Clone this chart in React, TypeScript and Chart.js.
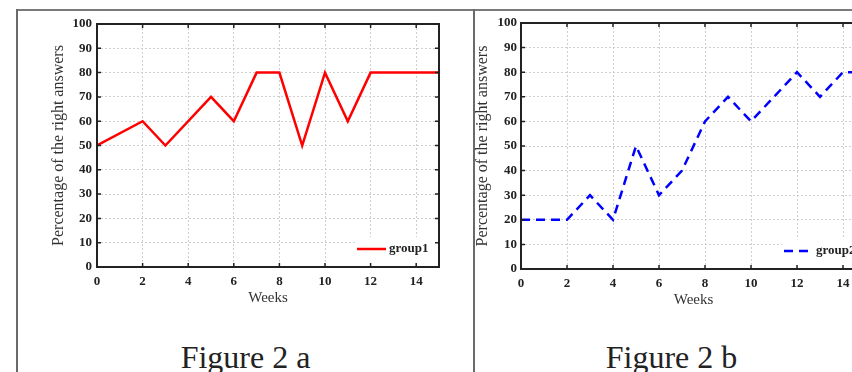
import React, { useEffect, useRef } from "react";
import { Chart, registerables } from "chart.js";

Chart.register(...registerables);

// ---- data ----
const weeksA = [0, 2, 3, 5, 6, 7, 8, 9, 10, 11, 12, 15];
const group1 = [50, 60, 50, 70, 60, 80, 80, 50, 80, 60, 80, 80];
const weeksB = [0, 2, 3, 4, 5, 6, 7, 8, 9, 10, 11, 12, 13, 14, 15];
const group2 = [20, 20, 30, 20, 50, 30, 40, 60, 70, 60, 70, 80, 70, 80, 80];
const xTickValues = [0, 2, 4, 6, 8, 10, 12, 14];
const yTickValues = [0, 10, 20, 30, 40, 50, 60, 70, 80, 90, 100];
const seriesLabels = ["group1", "group2"];
const captions = ["Figure 2 a", "Figure 2 b"];
const xTitle = "Weeks";
const yTitle = "Percentage of the right answers";

const SERIF = '"Liberation Serif", "Times New Roman", serif';

const boxPlugin = {
  id: "boxAndLegend",
  afterDatasetsDraw(chart: any) {
    const { ctx, chartArea } = chart;
    const { left, right, top, bottom } = chartArea;
    const ds = chart.data.datasets[0];
    // legend
    ctx.save();
    ctx.fillStyle = "#ffffff";
    ctx.fillRect(right - 84, bottom - 30, 82, 28);
    const ly = bottom - 18;
    ctx.strokeStyle = ds.borderColor;
    ctx.lineWidth = ds.borderWidth;
    ctx.setLineDash(ds.borderDash || []);
    ctx.beginPath();
    ctx.moveTo(right - 82, ly);
    ctx.lineTo(right - 53, ly);
    ctx.stroke();
    ctx.setLineDash([]);
    ctx.fillStyle = "#222";
    ctx.font = `bold 13px ${SERIF}`;
    ctx.textBaseline = "middle";
    ctx.textAlign = "left";
    ctx.fillText(ds.label, right - 50, ly);
    ctx.restore();

    // box
    ctx.save();
    ctx.strokeStyle = "#222";
    ctx.lineWidth = 2;
    ctx.strokeRect(left, top, right - left, bottom - top);
    // inward ticks
    ctx.lineWidth = 1.5;
    const xs = chart.scales.x;
    const ys = chart.scales.y;
    ctx.beginPath();
    xs.ticks.forEach((t: any) => {
      const px = xs.getPixelForValue(t.value);
      ctx.moveTo(px, bottom);
      ctx.lineTo(px, bottom - 4);
      ctx.moveTo(px, top);
      ctx.lineTo(px, top + 4);
    });
    ys.ticks.forEach((t: any) => {
      const py = ys.getPixelForValue(t.value);
      ctx.moveTo(left, py);
      ctx.lineTo(left + 4, py);
      ctx.moveTo(right, py);
      ctx.lineTo(right - 4, py);
    });
    ctx.stroke();
    ctx.restore();
  },
};

type PanelCfg = {
  left: number;
  top: number;
  w: number;
  h: number;
  yWidth: number;
  xHeight: number;
  padTop: number;
  padRight: number;
  yLabelPad: number;
  yTitlePad: number;
  xTitlePad: number;
  xs: number[];
  ys: number[];
  label: string;
  color: string;
  dash: number[];
};

function Panel({ cfg }: { cfg: PanelCfg }) {
  const ref = useRef<HTMLCanvasElement>(null);
  useEffect(() => {
    const chart = new Chart(ref.current as HTMLCanvasElement, {
      type: "line",
      data: {
        datasets: [
          {
            label: cfg.label,
            data: cfg.xs.map((x, i) => ({ x, y: cfg.ys[i] })),
            borderColor: cfg.color,
            backgroundColor: cfg.color,
            borderWidth: 2.5,
            borderDash: cfg.dash,
            borderCapStyle: "butt",
            borderJoinStyle: "miter",
            pointRadius: 0,
            fill: false,
            tension: 0,
          },
        ],
      },
      options: {
        animation: false,
        responsive: false,
        devicePixelRatio: 1,
        layout: { padding: { top: cfg.padTop, right: cfg.padRight, left: 0, bottom: 0 } },
        plugins: { legend: { display: false }, tooltip: { enabled: false } },
        scales: {
          x: {
            type: "linear",
            min: 0,
            max: 15,
            afterBuildTicks: (s: any) => {
              s.ticks = xTickValues.map((v) => ({ value: v }));
            },
            afterFit: (s: any) => {
              s.height = cfg.xHeight;
            },
            grid: { color: "#cfcfcf", lineWidth: 1, drawTicks: false },
            border: { display: false, dash: [2, 2] },
            ticks: {
              padding: 7,
              color: "#222",
              maxRotation: 0,
              font: { family: SERIF, size: 13, weight: "bold" },
            },
            title: {
              display: true,
              text: xTitle,
              color: "#333",
              font: { family: SERIF, size: 15 },
              padding: { top: 0, bottom: cfg.xTitlePad },
            },
          },
          y: {
            type: "linear",
            min: 0,
            max: 100,
            afterBuildTicks: (s: any) => {
              s.ticks = yTickValues.map((v) => ({ value: v }));
            },
            afterFit: (s: any) => {
              s.width = cfg.yWidth;
            },
            grid: { color: "#cfcfcf", lineWidth: 1, drawTicks: false },
            border: { display: false, dash: [2, 2] },
            ticks: {
              padding: cfg.yLabelPad,
              color: "#222",
              font: { family: SERIF, size: 13, weight: "bold" },
            },
            title: {
              display: true,
              text: yTitle,
              color: "#333",
              font: { family: SERIF, size: 16 },
              padding: { top: cfg.yTitlePad, bottom: 0 },
            },
          },
        },
      },
      plugins: [boxPlugin],
    } as any);
    return () => chart.destroy();
  }, []);
  return (
    <canvas
      ref={ref}
      width={cfg.w}
      height={cfg.h}
      style={{ position: "absolute", left: cfg.left, top: cfg.top, width: cfg.w, height: cfg.h }}
    />
  );
}

const panelA: PanelCfg = {
  left: 18,
  top: 11,
  w: 455,
  h: 300,
  yWidth: 79,
  xHeight: 44,
  padTop: 13,
  padRight: 34,
  yLabelPad: 5,
  yTitlePad: 31,
  xTitlePad: 4,
  xs: weeksA,
  ys: group1,
  label: seriesLabels[0],
  color: "#ff0000",
  dash: [],
};

const panelB: PanelCfg = {
  left: 466,
  top: 10,
  w: 430,
  h: 303,
  yWidth: 55,
  xHeight: 44,
  padTop: 13,
  padRight: 30,
  yLabelPad: 4,
  yTitlePad: 7,
  xTitlePad: 4,
  xs: weeksB,
  ys: group2,
  label: seriesLabels[1],
  color: "#0000ff",
  dash: [9, 6],
};

const captionStyle: React.CSSProperties = {
  position: "absolute",
  top: 341,
  width: 300,
  textAlign: "center",
  fontFamily: SERIF,
  fontSize: 32,
  lineHeight: "32px",
  color: "#222",
  whiteSpace: "nowrap",
};

export default function App() {
  return (
    <div
      style={{
        position: "fixed",
        left: 0,
        top: 0,
        width: 852,
        height: 372,
        overflow: "hidden",
        background: "#fff",
      }}
    >
      <Panel cfg={panelA} />
      <Panel cfg={panelB} />
      <div style={{ ...captionStyle, left: 245.5 - 150 }}>{captions[0]}</div>
      <div style={{ ...captionStyle, left: 671.5 - 150 }}>{captions[1]}</div>
      {/* frame lines */}
      <div style={{ position: "absolute", left: 16, top: 9, width: 836, height: 2, background: "#7a7a7a", zIndex: 2 }} />
      <div style={{ position: "absolute", left: 16, top: 9, width: 2, height: 363, background: "#6a6a6a", zIndex: 2 }} />
      <div style={{ position: "absolute", left: 473, top: 9, width: 2, height: 363, background: "#6a6a6a", zIndex: 2 }} />
    </div>
  );
}
